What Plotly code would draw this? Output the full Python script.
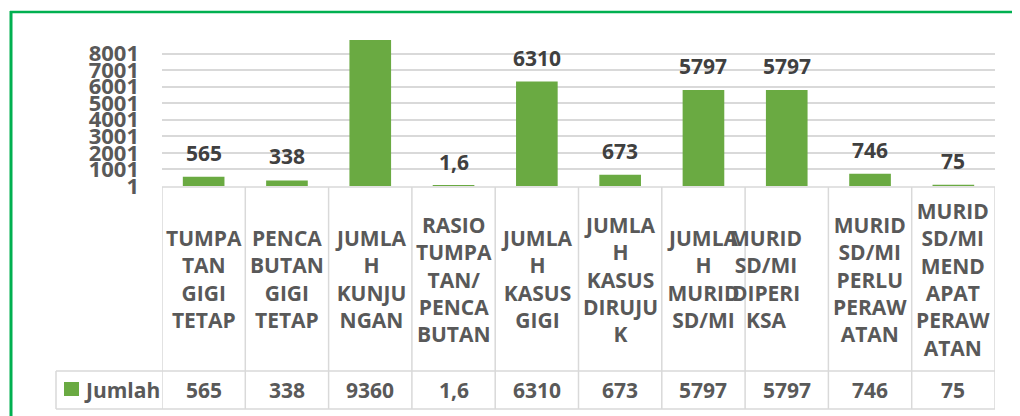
import plotly.graph_objects as go

# ---- data ----
categories = [
    "TUMPA<br>TAN<br>GIGI<br>TETAP",
    "PENCA<br>BUTAN<br>GIGI<br>TETAP",
    "JUMLA<br>H<br>KUNJU<br>NGAN",
    "RASIO<br>TUMPA<br>TAN/<br>PENCA<br>BUTAN",
    "JUMLA<br>H<br>KASUS<br>GIGI",
    "JUMLA<br>H<br>KASUS<br>DIRUJU<br>K",
    "JUMLA<br>H<br>MURID<br>SD/MI",
    "MURID<br>SD/MI<br>DIPERI<br>KSA",
    "MURID<br>SD/MI<br>PERLU<br>PERAW<br>ATAN",
    "MURID<br>SD/MI<br>MEND<br>APAT<br>PERAW<br>ATAN",
]
values = [565, 338, 9360, 1.6, 6310, 673, 5797, 5797, 746, 75]
value_text = ["565", "338", "9360", "1,6", "6310", "673", "5797", "5797", "746", "75"]
bar_labels = ["565", "338", "", "1,6", "6310", "673", "5797", "5797", "746", "75"]
series_name = "Jumlah"
tick_vals = [1, 1001, 2001, 3001, 4001, 5001, 6001, 7001, 8001]
tick_text = ["1", "1001", "2001", "3001", "4001", "5001", "6001", "7001", "8001"]
y_range = [1, 8816]

# ---- geometry (screen pixels; page body adds an 8px offset) ----
OFF = 8
W, H = 1020 - OFF, 416 - OFF
L, R, T, B = 162, 995, 40, 186   # plot area in screen pixels


def py(p):
    return (B - p) / (B - T)


def pxx(p):
    return (p - L) / (R - L)


GREEN = "#6aaa42"
TXT = "#595959"
LBL = "#404040"
GRID = "#d9d9d9"
FONT = "Open Sans"

idx = list(range(len(categories)))

fig = go.Figure()
fig.add_trace(go.Bar(
    x=idx, y=values, name=series_name,
    marker=dict(color=GREEN, line=dict(width=0)),
    showlegend=False,
))

annotations = []
for i, (v, t) in enumerate(zip(values, bar_labels)):
    if t:
        annotations.append(dict(
            x=i, y=v, xref="x", yref="y", text=t, showarrow=False,
            yanchor="middle", yshift=24,
            font=dict(family=FONT, size=21, color=LBL, weight="bold"),
        ))

cat_shift = [0, 0, 0, 0, 0, 0, 0, -21, 0, 0]
for i, c in enumerate(categories):
    annotations.append(dict(
        x=i, y=py(279), xref="x", yref="paper", text=c, showarrow=False,
        xanchor="center", yanchor="middle", align="center", xshift=cat_shift[i],
        font=dict(family=FONT, size=21, color=TXT, weight="bold"),
    ))
for i, t in enumerate(value_text):
    annotations.append(dict(
        x=i, y=py(390), xref="x", yref="paper", text=t, showarrow=False,
        xanchor="center", yanchor="middle",
        font=dict(family=FONT, size=21, color=TXT, weight="bold"),
    ))
annotations.append(dict(
    x=pxx(82), y=py(390), xref="paper", yref="paper", text=series_name,
    showarrow=False, xanchor="left", yanchor="middle",
    font=dict(family=FONT, size=21, color=TXT, weight="bold"),
))

shapes = []
lw = 1.5
shapes.append(dict(type="line", xref="paper", yref="paper", x0=0, x1=1,
                   y0=py(187), y1=py(187), line=dict(color=GRID, width=lw)))
for yy in (371, 409):
    shapes.append(dict(type="line", xref="paper", yref="paper", x0=pxx(56), x1=1,
                       y0=py(yy), y1=py(yy), line=dict(color=GRID, width=lw)))
shapes.append(dict(type="line", xref="paper", yref="paper", x0=pxx(56), x1=pxx(56),
                   y0=py(371), y1=py(409), line=dict(color=GRID, width=lw)))
for i in range(len(categories) + 1):
    shapes.append(dict(type="line", xref="x", yref="paper", x0=i - 0.5, x1=i - 0.5,
                       y0=py(187), y1=py(409), line=dict(color=GRID, width=lw)))
shapes.append(dict(type="rect", xref="paper", yref="paper",
                   x0=pxx(64), x1=pxx(79), y0=py(382), y1=py(396),
                   fillcolor=GREEN, line=dict(width=0)))
shapes.append(dict(type="line", xref="paper", yref="paper", x0=pxx(10), x1=pxx(1030),
                   y0=py(12), y1=py(12), line=dict(color="#00b050", width=2.5)))
shapes.append(dict(type="line", xref="paper", yref="paper", x0=pxx(11), x1=pxx(11),
                   y0=py(11), y1=py(430), line=dict(color="#00b050", width=3)))

fig.update_layout(
    width=W, height=H,
    margin=dict(l=L - OFF, r=(W + OFF) - R, t=T - OFF, b=(H + OFF) - B, pad=0),
    paper_bgcolor="white", plot_bgcolor="white",
    bargap=0.5,
    xaxis=dict(type="linear", range=[-0.5, len(categories) - 0.5], showticklabels=False,
               showgrid=False, zeroline=False, showline=False, fixedrange=True),
    yaxis=dict(range=y_range, tickmode="array", tickvals=tick_vals, ticktext=tick_text,
               showgrid=True, gridcolor=GRID, gridwidth=1.5, zeroline=False, showline=False,
               ticks="", ticklabelstandoff=22,
               tickfont=dict(family=FONT, size=22, color=TXT, weight="bold")),
    annotations=annotations,
    shapes=shapes,
    showlegend=False,
)

fig.write_html("out.html")
